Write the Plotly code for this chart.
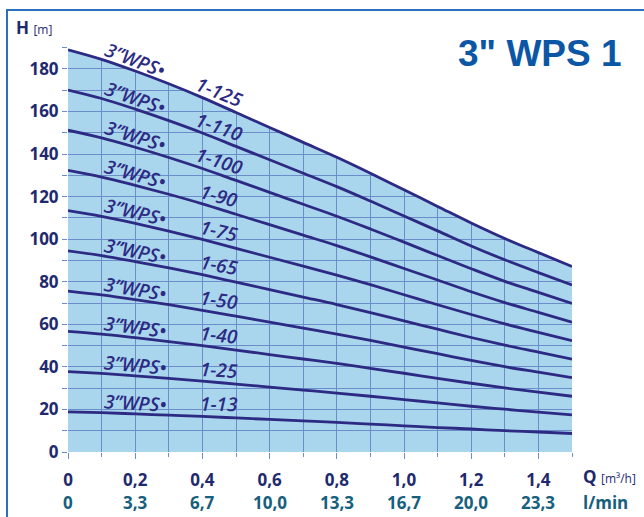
import math
import plotly.graph_objects as go

# ---------------- data ----------------
Q_M3H = [0.0, 0.1, 0.2, 0.3, 0.4, 0.5, 0.6, 0.7, 0.8, 0.9, 1.0, 1.1, 1.2, 1.3, 1.4, 1.5]

MODELS = ["1-125", "1-110", "1-100", "1-90", "1-75", "1-65", "1-50", "1-40", "1-25", "1-13"]

H_1_125 = [189.0, 184.5, 179.0, 173.0, 166.5, 159.5, 152.5, 145.5, 138.5, 131.0, 123.2, 115.4, 107.6, 100.3, 93.7, 87.2]
H_1_110 = [170.1, 166.1, 161.1, 155.7, 149.9, 143.6, 137.3, 131.0, 124.7, 117.9, 110.9, 103.9, 96.8, 90.3, 84.3, 78.5]
H_1_100 = [151.2, 147.6, 143.2, 138.4, 133.2, 127.6, 122.0, 116.4, 110.8, 104.8, 98.6, 92.3, 86.1, 80.2, 75.0, 69.8]
H_1_90 = [132.3, 129.2, 125.3, 121.1, 116.6, 111.7, 106.8, 101.9, 97.0, 91.7, 86.2, 80.8, 75.3, 70.2, 65.6, 61.0]
H_1_75 = [113.4, 110.7, 107.4, 103.8, 99.9, 95.7, 91.5, 87.3, 83.1, 78.6, 73.9, 69.2, 64.6, 60.2, 56.2, 52.3]
H_1_65 = [94.5, 92.3, 89.5, 86.5, 83.3, 79.8, 76.3, 72.8, 69.3, 65.5, 61.6, 57.7, 53.8, 50.2, 46.9, 43.6]
H_1_50 = [75.6, 73.8, 71.6, 69.2, 66.6, 63.8, 61.0, 58.2, 55.4, 52.4, 49.3, 46.2, 43.0, 40.1, 37.5, 34.9]
H_1_40 = [56.7, 55.4, 53.7, 51.9, 50.0, 47.9, 45.8, 43.7, 41.6, 39.3, 37.0, 34.6, 32.3, 30.1, 28.1, 26.2]
H_1_25 = [37.8, 36.9, 35.8, 34.6, 33.3, 31.9, 30.5, 29.1, 27.7, 26.2, 24.6, 23.1, 21.5, 20.1, 18.7, 17.4]
H_1_13 = [18.9, 18.5, 17.9, 17.3, 16.7, 16.0, 15.3, 14.6, 13.9, 13.1, 12.3, 11.5, 10.8, 10.0, 9.4, 8.7]

CURVES = [H_1_125, H_1_110, H_1_100, H_1_90, H_1_75, H_1_65, H_1_50, H_1_40, H_1_25, H_1_13]

SERIES_PREFIX = "3\u201dWPS"

X_TICK_VALS = [0, 0.2, 0.4, 0.6, 0.8, 1.0, 1.2, 1.4]
X_TICK_TEXT = ["0", "0,2", "0,4", "0,6", "0,8", "1,0", "1,2", "1,4"]
LMIN_TEXT = ["0", "3,3", "6,7", "10,0", "13,3", "16,7", "20,0", "23,3"]
Y_TICK_VALS = [0, 20, 40, 60, 80, 100, 120, 140, 160, 180]
Y_TICK_TEXT = ["0", "20", "40", "60", "80", "100", "120", "140", "160", "180"]

TITLE = "3\" WPS 1"

# ---------------- style / layout ----------------
W, H = 644, 517
ML, MR, MT, MB = 68, 72, 37, 65
X_RANGE = [0, 1.5]
Y_RANGE = [0, 195]

FILL = "#a9d5ed"
GRID = "#6b8dc9"
LINE = "#2c2a83"
NAVY = "#1f2a6e"
TEAL = "#16607e"
TITLE_BLUE = "#0b57a6"
FRAME = "#2a70bf"

PW = W - ML - MR
PH = H - MT - MB
px_per_x = PW / (X_RANGE[1] - X_RANGE[0])
px_per_y = PH / (Y_RANGE[1] - Y_RANGE[0])

fig = go.Figure()

# white mask above the top curve (hides the grid outside the pump area)
top = CURVES[0]
mask_x = Q_M3H + [Q_M3H[-1] + 0.05, Q_M3H[-1] + 0.05, Q_M3H[0] - 0.05, Q_M3H[0] - 0.05]
mask_y = top + [top[-1], Y_RANGE[1] + 10, Y_RANGE[1] + 10, top[0]]
fig.add_trace(go.Scatter(x=mask_x, y=mask_y, mode="lines", fill="toself",
                         fillcolor="white", line=dict(width=0, color="white"),
                         hoverinfo="skip", showlegend=False))

for name, h in zip(MODELS, CURVES):
    fig.add_trace(go.Scatter(x=Q_M3H, y=h, mode="lines", name=name,
                             line=dict(color=LINE, width=2.8, shape="spline"),
                             showlegend=False))

label_font = dict(family="Open Sans", size=19, color=LINE, style="italic", weight=600)


def slope_angle(h, i0, i1):
    dh = (h[i1] - h[i0]) / (Q_M3H[i1] - Q_M3H[i0])
    return math.degrees(math.atan(-dh * px_per_y / px_per_x))


for name, h in zip(MODELS, CURVES):
    # series prefix label near Q = 0.2
    a1 = slope_angle(h, 1, 3)
    fig.add_annotation(x=Q_M3H[2], y=h[2], yshift=11,
                       text=SERIES_PREFIX + "\u2022",
                       showarrow=False, textangle=a1 + 1, font=label_font,
                       xanchor="center", yanchor="middle")
    # model label near Q = 0.45
    a2 = slope_angle(h, 4, 5)
    xm = (Q_M3H[4] + Q_M3H[5]) / 2
    ym = (h[4] + h[5]) / 2
    fig.add_annotation(x=xm, y=ym, yshift=13, text=name,
                       showarrow=False, textangle=a2 - 2, font=label_font,
                       xanchor="center", yanchor="middle")

# second row of x labels (l/min)
for xv, t in zip(X_TICK_VALS, LMIN_TEXT):
    fig.add_annotation(x=xv, xref="x", y=0, yref="paper", yshift=-50, text=t,
                       showarrow=False, xanchor="center", yanchor="middle",
                       font=dict(family="Open Sans", size=17, color=TEAL, weight="bold"))

# axis unit labels
fig.add_annotation(x=(581 - ML) / PW, xref="paper", y=0, yref="paper", yshift=-24,
                   text="Q <span style='font-size:12px;font-weight:normal'>[m\u00b3/h]</span>",
                   showarrow=False, xanchor="left", yanchor="middle",
                   font=dict(family="Open Sans", size=17, color=NAVY, weight="bold"))
fig.add_annotation(x=(581 - ML) / PW, xref="paper", y=0, yref="paper", yshift=-50,
                   text="l/min", showarrow=False, xanchor="left", yanchor="middle",
                   font=dict(family="Open Sans", size=17, color=TEAL, weight="bold"))
fig.add_annotation(x=(14 - ML) / PW, xref="paper", y=1, yref="paper", yshift=(MT - 27),
                   text="H <span style='font-size:12px;font-weight:normal'>[m]</span>",
                   showarrow=False, xanchor="left", yanchor="middle",
                   font=dict(family="Open Sans", size=17, color=NAVY, weight="bold"))

# title
fig.add_annotation(x=(540 - ML) / PW, xref="paper", y=1, yref="paper", yshift=(MT - 53),
                   text=TITLE, showarrow=False, xanchor="center", yanchor="middle",
                   font=dict(family="Liberation Sans", size=37, color=TITLE_BLUE, weight="bold"))

# frame around the panel
fig.add_shape(type="rect", xref="paper", yref="paper",
              x0=(7 - ML) / PW, x1=(W + 20 - ML) / PW,
              y0=-(H + 20 - (H - MB)) / PH, y1=(H - MB - 10) / PH,
              line=dict(color=FRAME, width=2), fillcolor="rgba(0,0,0,0)", layer="above")

tick_font = dict(family="Open Sans", size=17, color=NAVY, weight="bold")

fig.update_xaxes(range=X_RANGE, tickmode="array", tickvals=X_TICK_VALS, ticktext=X_TICK_TEXT,
                 showgrid=True, gridcolor=GRID, gridwidth=1, zeroline=False,
                 ticks="outside", ticklen=6, tickcolor=GRID, showline=False,
                 ticklabelstandoff=7,
                 minor=dict(dtick=0.1, showgrid=True, gridcolor=GRID, gridwidth=1,
                            ticks="outside", ticklen=4, tickcolor=GRID),
                 tickfont=tick_font, fixedrange=True)
fig.update_yaxes(range=Y_RANGE, tickmode="array", tickvals=Y_TICK_VALS, ticktext=Y_TICK_TEXT,
                 showgrid=True, gridcolor=GRID, gridwidth=1, zeroline=False,
                 ticks="outside", ticklen=5, tickcolor=GRID, showline=False,
                 minor=dict(dtick=10, showgrid=True, gridcolor=GRID, gridwidth=1,
                            ticks="outside", ticklen=5, tickcolor=GRID),
                 tickfont=tick_font, fixedrange=True)

fig.update_layout(width=W, height=H, autosize=False,
                  margin=dict(l=ML, r=MR, t=MT, b=MB, pad=0),
                  paper_bgcolor="white", plot_bgcolor=FILL,
                  showlegend=False)

fig.write_html("out.html", config={"displayModeBar": False},
               post_script="document.body.style.margin='0';document.body.style.overflow='hidden';")
